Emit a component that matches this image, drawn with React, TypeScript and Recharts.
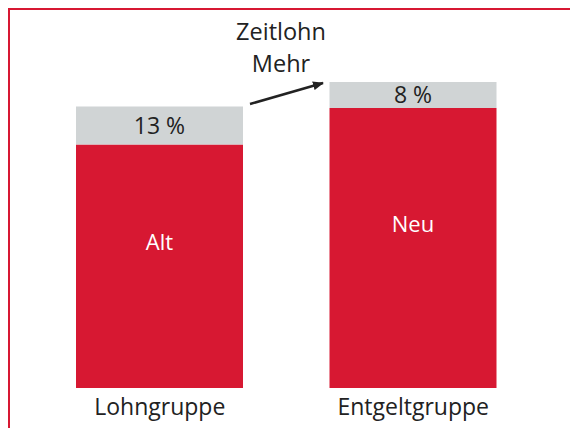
import { BarChart, Bar, XAxis, YAxis, LabelList } from "recharts";

const categories = ["Lohngruppe", "Entgeltgruppe"];
const baseLabels = ["Alt", "Neu"];
const baseValues = [87, 100];
const extraValues = [13.5, 9.3];
const extraLabels = ["13 %", "8 %"];

const data = categories.map((name, i) => ({
  name,
  base: baseValues[i],
  baseLabel: baseLabels[i],
  extra: extraValues[i],
  extraLabel: extraLabels[i],
}));

const RED = "#d71832";
const GREY = "#d0d4d5";
const TEXT = "#222222";
const FONT = "'Open Sans', 'Noto Sans', sans-serif";

export default function App() {
  return (
    <div
      style={{
        position: "absolute",
        left: 0,
        top: 0,
        width: 570,
        height: 428,
        background: "#fff",
        fontFamily: FONT,
      }}
    >
      <div
        style={{
          position: "absolute",
          left: 8,
          top: 8,
          width: 562,
          height: 420,
          borderLeft: `2px solid ${RED}`,
          borderTop: `2px solid ${RED}`,
          boxSizing: "border-box",
        }}
      />
      <BarChart
        width={570}
        height={428}
        data={data}
        margin={{ top: 52, right: 30, bottom: 0, left: 33 }}
        style={{ position: "absolute", left: 0, top: 0 }}
      >
        <XAxis
          dataKey="name"
          axisLine={false}
          tickLine={false}
          height={40}
          tick={{ fontSize: 23, fill: TEXT, fontFamily: FONT }}
          tickMargin={5}
        />
        <YAxis hide domain={[0, 120]} />
        <Bar dataKey="base" stackId="a" fill={RED} barSize={167} isAnimationActive={false}>
          <LabelList
            dataKey="baseLabel"
            position="center"
            fill="#ffffff"
            fontSize={22}
            fontFamily={FONT}
            dy={-24}
          />
        </Bar>
        <Bar dataKey="extra" stackId="a" fill={GREY} barSize={167} isAnimationActive={false}>
          <LabelList
            dataKey="extraLabel"
            position="center"
            fill={TEXT}
            fontSize={23}
            fontFamily={FONT}
          />
        </Bar>
      </BarChart>
      <svg
        width={570}
        height={428}
        style={{ position: "absolute", left: 0, top: 0, pointerEvents: "none" }}
      >
        <defs>
          <marker
            id="arrow"
            markerWidth="11"
            markerHeight="9"
            refX="10"
            refY="4.5"
            orient="auto"
            markerUnits="userSpaceOnUse"
          >
            <path d="M0,0 L11,4.5 L0,9 Z" fill={TEXT} />
          </marker>
        </defs>
        <text
          x={281}
          y={40}
          textAnchor="middle"
          fontSize={23.5}
          fill={TEXT}
          fontFamily={FONT}
        >
          Zeitlohn
        </text>
        <text
          x={281}
          y={72}
          textAnchor="middle"
          fontSize={23.5}
          fill={TEXT}
          fontFamily={FONT}
        >
          Mehr
        </text>
        <line
          x1={250}
          y1={104}
          x2={323}
          y2={83}
          stroke={TEXT}
          strokeWidth={2.5}
          markerEnd="url(#arrow)"
        />
      </svg>
    </div>
  );
}
